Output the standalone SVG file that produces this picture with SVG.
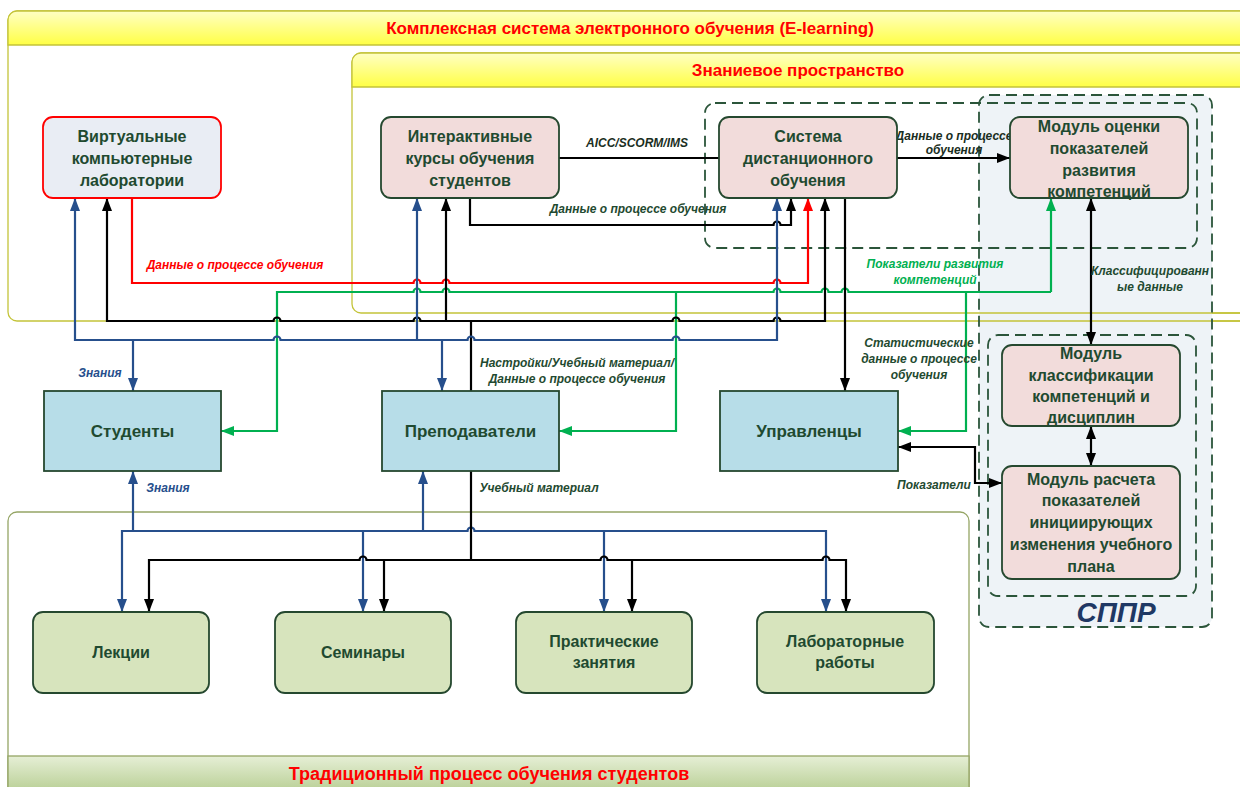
<svg xmlns="http://www.w3.org/2000/svg" width="1240" height="787" viewBox="0 0 1240 787">
<defs>
  <linearGradient id="yel" x1="0" y1="0" x2="0" y2="1">
    <stop offset="0" stop-color="#ffffc4"/>
    <stop offset="1" stop-color="#ffff45"/>
  </linearGradient>
  <linearGradient id="grn" x1="0" y1="0" x2="0" y2="1">
    <stop offset="0" stop-color="#e6efd6"/>
    <stop offset="1" stop-color="#a6c27a"/>
  </linearGradient>
  <marker id="ak" markerUnits="userSpaceOnUse" markerWidth="14" markerHeight="10" refX="13" refY="5" orient="auto-start-reverse"><path d="M0,0 L13,5 L0,10 z" fill="#000"/></marker>
  <marker id="ab" markerUnits="userSpaceOnUse" markerWidth="14" markerHeight="10" refX="13" refY="5" orient="auto-start-reverse"><path d="M0,0 L13,5 L0,10 z" fill="#264f8c"/></marker>
  <marker id="ag" markerUnits="userSpaceOnUse" markerWidth="14" markerHeight="10" refX="13" refY="5" orient="auto-start-reverse"><path d="M0,0 L13,5 L0,10 z" fill="#00b050"/></marker>
  <marker id="ar" markerUnits="userSpaceOnUse" markerWidth="14" markerHeight="10" refX="13" refY="5" orient="auto-start-reverse"><path d="M0,0 L13,5 L0,10 z" fill="#ff0000"/></marker>
</defs>
<style>
  text{font-family:"Liberation Sans",Arial,sans-serif}
  .fr{fill:#fff;stroke:#c4c43a;stroke-width:1.3}
  .frl{fill:none;stroke:#c4c43a;stroke-width:1.3}
  .band{fill:url(#yel);stroke:#c4c43a;stroke-width:1.3}
  .frg{fill:#fff;stroke:#95a565;stroke-width:1.3}
  .bandg{fill:url(#grn);stroke:#95a565;stroke-width:1.3}
  .title{font-size:17px;font-weight:bold;fill:#ff0000;text-anchor:middle}
  .dash{fill:none;stroke:#2b553a;stroke-width:1.8;stroke-dasharray:11 6}
  .c{fill:none;stroke-width:2.2;stroke-linejoin:miter}
  .k{stroke:#000}
  .b{stroke:#264f8c}
  .g{stroke:#00b050}
  .r{stroke:#ff0000}
  .pink{fill:#f2dcdb;stroke:#25482f;stroke-width:1.8}
  .virt{fill:#e9edf4;stroke:#ff0000;stroke-width:1.8}
  .lb{fill:#b7dde8;stroke:#25482f;stroke-width:1.8}
  .gr{fill:#d7e4bd;stroke:#25482f;stroke-width:1.8}
  .nt{font-size:16px;font-weight:bold;fill:#1f4a30;text-anchor:middle}
  .nt2{font-size:17px;font-weight:bold;fill:#1f4a30;text-anchor:middle}
  .nt3{font-size:16px;font-weight:bold;fill:#1f4a30;text-anchor:middle}
  .lab{font-size:12px;font-weight:bold;font-style:italic;fill:#1f4a30;text-anchor:middle}
  .labk{font-size:12px;font-weight:bold;font-style:italic;fill:#1a2e22;text-anchor:middle}
  .labb{font-size:12px;font-weight:bold;font-style:italic;fill:#264f8c;text-anchor:middle}
  .labg{font-size:12px;font-weight:bold;font-style:italic;fill:#00b050;text-anchor:middle}
  .labr{font-size:12px;font-weight:bold;font-style:italic;fill:#ff0000;text-anchor:middle}
</style>

<!-- Frames -->
<g id="frame-elearning">
  <rect class="fr" x="8" y="11" width="1260" height="310" rx="9"/>
  <path class="band" d="M8,45 V20 a9,9 0 0 1 9,-9 H1268 V45 Z"/>
  <text class="title" x="630" y="34">Комплексная система электронного обучения (E-learning)</text>
</g>
<g id="frame-knowledge">
  <rect class="fr" x="352" y="53" width="910" height="260" rx="9"/>
  <path class="band" d="M352,87 V62 a9,9 0 0 1 9,-9 H1262 V87 Z"/>
  <text class="title" x="798" y="76">Знаниевое пространство</text>
</g>
<g id="frame-traditional">
  <rect class="frg" x="8" y="512" width="961" height="300" rx="9"/>
  <rect class="bandg" x="8" y="756" width="961" height="50"/>
  <text class="title" x="489" y="780" style="font-size:18px">Традиционный процесс обучения студентов</text>
</g>

<!-- СППР -->
<g id="sppr">
  <rect x="979" y="95" width="233" height="532" rx="10" fill="#eef3f7"/>
  <path class="frl" d="M979,313 H1240 M979,321 H1240"/>
  <rect class="dash" x="979" y="95" width="233" height="532" rx="10"/>
  <rect class="dash" x="988" y="335" width="208" height="261" rx="10"/>
  <text x="1116" y="622" style="font-size:28px;font-weight:bold;font-style:italic;fill:#1f3864;text-anchor:middle">СППР</text>
</g>
<g id="sdo-group">
  <rect class="dash" x="705" y="103" width="492" height="145" rx="10"/>
</g>

<!-- Connectors -->
<g id="connectors">
  <path class="c k" d="M559,158 H719"/>
  <path class="c k" d="M470,198 V225 H773.5 a3.5,3.5 0 0 1 7,0 H791 V198" marker-end="url(#ak)"/>
  <path class="c k" d="M897,158 H1010" marker-end="url(#ak)"/>
  <path class="c k" d="M1091,198 V345" marker-start="url(#ak)" marker-end="url(#ak)"/>
  <path class="c k" d="M1091,426 V466" marker-start="url(#ak)" marker-end="url(#ak)"/>
  <path class="c k" d="M898,447 H975 V483 H1002" marker-start="url(#ak)" marker-end="url(#ak)"/>
  <!-- red -->
  <path class="c r" d="M132,198 V283 H413.5 a3.5,3.5 0 0 1 7,0 H442.5 a3.5,3.5 0 0 1 7,0 H773.5 a3.5,3.5 0 0 1 7,0 H808 V198" marker-end="url(#ar)"/>
  <!-- green -->
  <path class="c g" d="M1051,292 V198" marker-end="url(#ag)"/>
  <path class="c g" d="M1051,292 H848.5 a3.5,3.5 0 0 0 -7,0 H828.5 a3.5,3.5 0 0 0 -7,0 H780.5 a3.5,3.5 0 0 0 -7,0 H449.5 a3.5,3.5 0 0 0 -7,0 H420.5 a3.5,3.5 0 0 0 -7,0 H277 V431 H221" marker-end="url(#ag)"/>
  <path class="c g" d="M676,292 V431 H559" marker-end="url(#ag)"/>
  <path class="c g" d="M966,292 V431 H898" marker-end="url(#ag)"/>
  <!-- black bus -->
  <path class="c k" d="M107,198 V321 H273.5 a3.5,3.5 0 0 1 7,0 H413.5 a3.5,3.5 0 0 1 7,0 H672.5 a3.5,3.5 0 0 1 7,0 H773.5 a3.5,3.5 0 0 1 7,0 H825 V198" marker-start="url(#ak)" marker-end="url(#ak)"/>
  <path class="c k" d="M446,321 V198" marker-end="url(#ak)"/>
  <path class="c k" d="M471,391 V321"/>
  <!-- blue bus -->
  <path class="c b" d="M75,198 V340 H273.5 a3.5,3.5 0 0 1 7,0 H467.5 a3.5,3.5 0 0 1 7,0 H672.5 a3.5,3.5 0 0 1 7,0 H777 V198" marker-start="url(#ab)" marker-end="url(#ab)"/>
  <path class="c b" d="M133,340 V391" marker-end="url(#ab)"/>
  <path class="c b" d="M417,340 V198" marker-end="url(#ab)"/>
  <path class="c b" d="M442,340 V391" marker-end="url(#ab)"/>
  <!-- SDO to managers -->
  <path class="c k" d="M845,198 V391" marker-end="url(#ak)"/>
  <!-- bottom blue -->
  <path class="c b" d="M122,612 V531 H467.5 a3.5,3.5 0 0 1 7,0 H826 V612" marker-start="url(#ab)" marker-end="url(#ab)"/>
  <path class="c b" d="M133,531 V471" marker-end="url(#ab)"/>
  <path class="c b" d="M363,531 V612" marker-end="url(#ab)"/>
  <path class="c b" d="M423,531 V471" marker-end="url(#ab)"/>
  <path class="c b" d="M604,531 V612" marker-end="url(#ab)"/>
  <!-- bottom black -->
  <path class="c k" d="M471,471 V560"/>
  <path class="c k" d="M149,612 V560 H359.5 a3.5,3.5 0 0 1 7,0 H600.5 a3.5,3.5 0 0 1 7,0 H822.5 a3.5,3.5 0 0 1 7,0 H846 V612" marker-start="url(#ak)" marker-end="url(#ak)"/>
  <path class="c k" d="M384,560 V612" marker-end="url(#ak)"/>
  <path class="c k" d="M632,560 V612" marker-end="url(#ak)"/>

  <!-- labels -->
  <text class="labk" x="637" y="147">AICC/SCORM/IMS</text>
  <text class="lab" x="638" y="213">Данные о процессе обучения</text>
  <text class="labk" x="954" y="140">Данные о процессе</text>
  <text class="labk" x="954" y="154">обучения</text>
  <text class="lab" x="1150" y="275">Классифицированн</text>
  <text class="lab" x="1150" y="291">ые данные</text>
  <text class="labg" x="935" y="268">Показатели развития</text>
  <text class="labg" x="935" y="284">компетенций</text>
  <text class="labr" x="235" y="269">Данные о процессе обучения</text>
  <text class="labb" x="100" y="377">Знания</text>
  <text class="lab" x="577" y="367">Настройки/Учебный материал/</text>
  <text class="lab" x="577" y="383">Данные о процессе обучения</text>
  <text class="lab" x="919" y="347">Статистические</text>
  <text class="lab" x="919" y="363">данные о процессе</text>
  <text class="lab" x="919" y="379">обучения</text>
  <text class="lab" x="934" y="489">Показатели</text>
  <text class="labb" x="168" y="492">Знания</text>
  <text class="lab" x="539" y="492">Учебный материал</text>
</g>

<!-- Nodes -->
<g id="n-virt">
  <rect class="virt" x="43" y="117" width="178" height="81" rx="10"/>
  <text class="nt" x="132" y="142">Виртуальные</text>
  <text class="nt" x="132" y="164">компьютерные</text>
  <text class="nt" x="132" y="186">лаборатории</text>
</g>
<g id="n-inter">
  <rect class="pink" x="381" y="117" width="178" height="81" rx="10"/>
  <text class="nt" x="470" y="142">Интерактивные</text>
  <text class="nt" x="470" y="164">курсы обучения</text>
  <text class="nt" x="470" y="186">студентов</text>
</g>
<g id="n-sdo">
  <rect class="pink" x="719" y="117" width="178" height="81" rx="10"/>
  <text class="nt" x="808" y="142">Система</text>
  <text class="nt" x="808" y="164">дистанционного</text>
  <text class="nt" x="808" y="186">обучения</text>
</g>
<g id="n-mod1">
  <rect class="pink" x="1010" y="117" width="178" height="81" rx="10"/>
  <text class="nt" x="1099" y="132">Модуль оценки</text>
  <text class="nt" x="1099" y="154">показателей</text>
  <text class="nt" x="1099" y="176">развития</text>
  <text class="nt" x="1099" y="197">компетенций</text>
</g>
<g id="n-stud">
  <rect class="lb" x="44" y="391" width="177" height="80"/>
  <text class="nt2" x="132.5" y="437">Студенты</text>
</g>
<g id="n-prep">
  <rect class="lb" x="382" y="391" width="177" height="80"/>
  <text class="nt2" x="470.5" y="437">Преподаватели</text>
</g>
<g id="n-upr">
  <rect class="lb" x="720" y="391" width="178" height="80"/>
  <text class="nt2" x="809" y="437">Управленцы</text>
</g>
<g id="n-mod2">
  <rect class="pink" x="1002" y="345" width="178" height="81" rx="10"/>
  <text class="nt" x="1091" y="359">Модуль</text>
  <text class="nt" x="1091" y="381">классификации</text>
  <text class="nt" x="1091" y="402">компетенций и</text>
  <text class="nt" x="1091" y="423">дисциплин</text>
</g>
<g id="n-mod3">
  <rect class="pink" x="1002" y="466" width="178" height="113" rx="10"/>
  <text class="nt" x="1091" y="485">Модуль расчета</text>
  <text class="nt" x="1091" y="506">показателей</text>
  <text class="nt" x="1091" y="528">инициирующих</text>
  <text class="nt" x="1091" y="550">изменения учебного</text>
  <text class="nt" x="1091" y="572">плана</text>
</g>
<g id="n-lek">
  <rect class="gr" x="33" y="612" width="176" height="81" rx="10"/>
  <text class="nt3" x="121" y="658">Лекции</text>
</g>
<g id="n-sem">
  <rect class="gr" x="275" y="612" width="176" height="81" rx="10"/>
  <text class="nt3" x="363" y="658">Семинары</text>
</g>
<g id="n-prak">
  <rect class="gr" x="516" y="612" width="176" height="81" rx="10"/>
  <text class="nt3" x="604" y="647">Практические</text>
  <text class="nt3" x="604" y="668">занятия</text>
</g>
<g id="n-lab">
  <rect class="gr" x="757" y="612" width="177" height="81" rx="10"/>
  <text class="nt3" x="845" y="647">Лабораторные</text>
  <text class="nt3" x="845" y="668">работы</text>
</g>
</svg>
